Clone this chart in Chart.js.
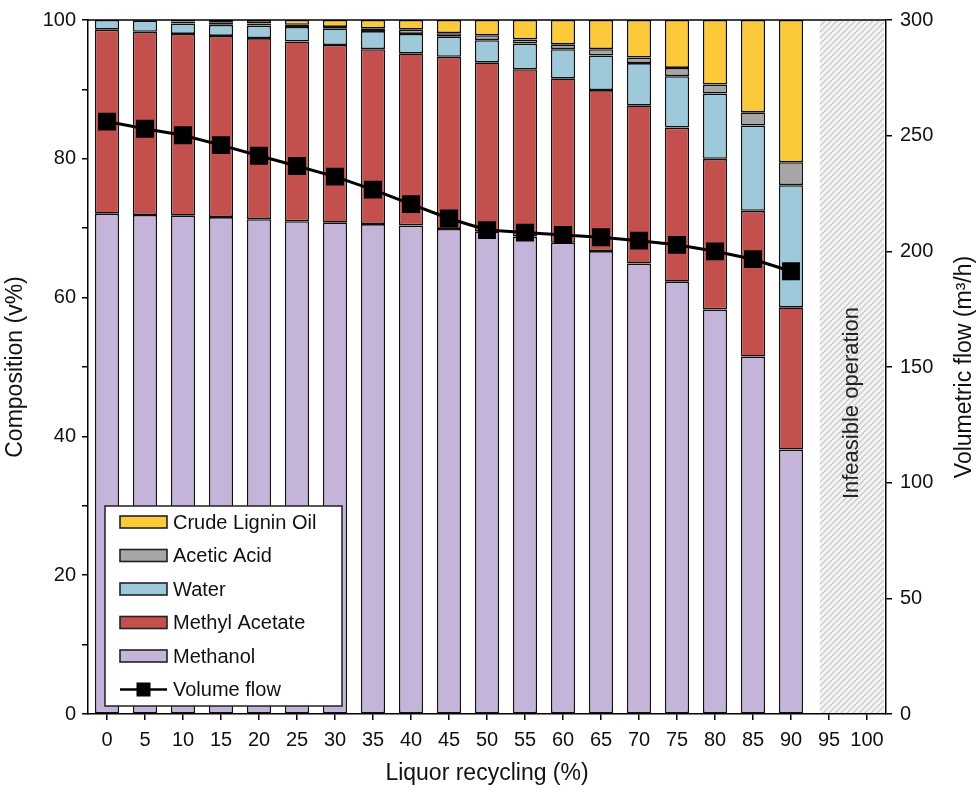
<!DOCTYPE html>
<html>
<head>
<meta charset="utf-8">
<script src="https://cdn.jsdelivr.net/npm/chart.js@4.4.0/dist/chart.umd.min.js"></script>
<style>
  html, body { margin: 0; padding: 0; background: #fff; }
  #wrap { width: 980px; height: 793px; }
</style>
</head>
<body>
<div id="wrap"><canvas id="chart"></canvas></div>
<script>
// liquor recycling (%) - 95 and 100 are infeasible, no data
const recycling = ['0','5','10','15','20','25','30','35','40','45','50','55','60','65','70','75','80','85','90','95','100'];

// composition, v% (each segment, stacked bottom -> top)
const methanol      = [72.1, 71.9, 71.8, 71.6, 71.3, 71.0, 70.8, 70.6, 70.4, 69.9, 69.5, 68.8, 67.9, 66.7, 64.9, 62.3, 58.3, 51.5, 38.1];
const methylAcetate = [26.5, 26.4, 26.2, 26.1, 26.1, 25.9, 25.6, 25.2, 24.8, 24.8, 24.4, 24.1, 23.7, 23.2, 22.8, 22.2, 21.7, 21.0, 20.5];
const water         = [1.4, 1.6, 1.5, 1.6, 1.8, 2.1, 2.4, 2.6, 2.8, 2.9, 3.2, 3.7, 4.2, 5.0, 6.1, 7.4, 9.4, 12.3, 17.6];
const aceticAcid    = [0, 0.1, 0.3, 0.3, 0.3, 0.3, 0.2, 0.4, 0.6, 0.5, 0.7, 0.6, 0.7, 0.9, 0.8, 1.2, 1.3, 1.9, 3.3];
const crudeLignin   = [0, 0, 0.2, 0.4, 0.5, 0.7, 1.0, 1.2, 1.4, 1.9, 2.2, 2.8, 3.5, 4.2, 5.4, 6.9, 9.3, 13.3, 20.5];

// volumetric flow, m3/h
const volumeFlow = [256.1, 253.0, 250.2, 245.9, 241.3, 236.9, 232.3, 226.7, 220.4, 214.2, 209.2, 208.1, 207.1, 206.1, 204.6, 202.8, 200.0, 196.6, 191.4];

const yTicks  = { min: 0, max: 100, step: 10, labelEvery: 20 };
const y1Ticks = { min: 0, max: 300, step: 50 };

const FONT = '"Liberation Sans", Arial, sans-serif';
Chart.defaults.font.family = FONT;
Chart.defaults.color = '#111';

function makeHatch() {
  const c = document.createElement('canvas');
  c.width = 6; c.height = 6;
  const g = c.getContext('2d');
  g.fillStyle = '#f3f3f3';
  g.fillRect(0, 0, 6, 6);
  g.strokeStyle = '#c2c2c2';
  g.lineWidth = 1.1;
  g.beginPath();
  g.moveTo(0, 6); g.lineTo(6, 0);
  g.moveTo(-3, 3); g.lineTo(3, -3);
  g.moveTo(3, 9); g.lineTo(9, 3);
  g.stroke();
  return c;
}

// hatched "infeasible" band over the last two categories
const infeasiblePlugin = {
  id: 'infeasible',
  beforeDatasetsDraw(chart) {
    const { ctx, chartArea, scales } = chart;
    const x = scales.x;
    const step = x.getPixelForValue(1) - x.getPixelForValue(0);
    const x0 = x.getPixelForValue(19) - 0.24 * step;
    const x1 = chartArea.right - 2;
    ctx.save();
    ctx.fillStyle = ctx.createPattern(makeHatch(), 'repeat');
    ctx.fillRect(x0, chartArea.top + 1, x1 - x0, chartArea.bottom - chartArea.top - 2);
    ctx.translate((x0 + x1) / 2, scales.y.getPixelForValue(44.8));
    ctx.rotate(-Math.PI / 2);
    ctx.font = '22px ' + FONT;
    ctx.fillStyle = '#222';
    ctx.textAlign = 'center';
    ctx.textBaseline = 'middle';
    ctx.fillText('Infeasible operation', 0, 0);
    ctx.restore();
  }
};

// legend box inside the plot, bottom-left
const boxLegend = {
  id: 'boxLegend',
  afterDatasetsDraw(chart) {
    const { ctx, chartArea } = chart;
    const ds = chart.data.datasets;
    const bars = ds.filter(d => d.type !== 'line').reverse();
    const lines = ds.filter(d => d.type === 'line');
    const items = bars.concat(lines);
    const left = chartArea.left + 17, bottom = chartArea.bottom - 8;
    const w = 237, h = 200, top = bottom - h;
    ctx.save();
    ctx.fillStyle = '#fff';
    ctx.fillRect(left, top, w, h);
    ctx.strokeStyle = '#222';
    ctx.lineWidth = 1.5;
    ctx.strokeRect(left, top, w, h);
    ctx.font = '20px ' + FONT;
    ctx.textBaseline = 'middle';
    items.forEach((d, i) => {
      const cy = top + 16 + i * 33.5;
      const sx = left + 15, sw = 47;
      if (d.type === 'line') {
        ctx.strokeStyle = '#000';
        ctx.lineWidth = 2.5;
        ctx.beginPath();
        ctx.moveTo(sx, cy); ctx.lineTo(sx + sw, cy);
        ctx.stroke();
        ctx.fillStyle = '#000';
        ctx.fillRect(sx + sw / 2 - 7, cy - 7, 14, 14);
      } else {
        ctx.fillStyle = d.backgroundColor;
        ctx.fillRect(sx, cy - 6, sw, 12);
        ctx.strokeStyle = '#222';
        ctx.lineWidth = 1.6;
        ctx.strokeRect(sx, cy - 6, sw, 12);
      }
      ctx.fillStyle = '#111';
      ctx.fillText(d.label, sx + sw + 6, cy + 1);
    });
    ctx.restore();
  },
  afterDraw(chart) {
    const { ctx, chartArea } = chart;
    ctx.save();
    // top frame line
    ctx.strokeStyle = '#000';
    ctx.lineWidth = 1.5;
    ctx.beginPath();
    ctx.moveTo(chartArea.left, chartArea.top);
    ctx.lineTo(chartArea.right, chartArea.top);
    ctx.stroke();
    // right axis title, reading bottom to top
    ctx.translate(chart.width - 15, (chartArea.top + chartArea.bottom) / 2);
    ctx.rotate(-Math.PI / 2);
    ctx.font = '23px ' + FONT;
    ctx.fillStyle = '#111';
    ctx.textAlign = 'center';
    ctx.textBaseline = 'middle';
    ctx.fillText('Volumetric flow (m³/h)', 0, 0);
    ctx.restore();
  }
};

const barStyle = {
  borderColor: '#111',
  borderWidth: 1.6,
  borderSkipped: false,
  barPercentage: 0.64,
  categoryPercentage: 1,
  yAxisID: 'y',
  order: 1
};

new Chart(document.getElementById('chart'), {
  type: 'bar',
  data: {
    labels: recycling,
    datasets: [
      { ...barStyle, label: 'Methanol', data: methanol, backgroundColor: '#c4b4da' },
      { ...barStyle, label: 'Methyl Acetate', data: methylAcetate, backgroundColor: '#c4504e' },
      { ...barStyle, label: 'Water', data: water, backgroundColor: '#9ec9da' },
      { ...barStyle, label: 'Acetic Acid', data: aceticAcid, backgroundColor: '#a6a6a6' },
      { ...barStyle, label: 'Crude Lignin Oil', data: crudeLignin, backgroundColor: '#fcc93a' },
      {
        type: 'line', label: 'Volume flow', data: volumeFlow, yAxisID: 'y1', order: 0,
        borderColor: '#000', borderWidth: 3, pointStyle: 'rect', pointRadius: 10.5,
        pointBackgroundColor: '#000', pointBorderColor: '#000', tension: 0
      }
    ]
  },
  options: {
    responsive: true,
    maintainAspectRatio: false,
    animation: false,
    layout: { padding: { top: 13, left: 0, right: 0, bottom: 0 } },
    plugins: { legend: { display: false }, tooltip: { enabled: false } },
    scales: {
      x: {
        stacked: true,
        offset: true,
        grid: { offset: false, drawOnChartArea: false, tickLength: 6, color: '#000', lineWidth: 1.5 },
        border: { color: '#000', width: 1.5 },
        ticks: { font: { size: 20 }, padding: 8, maxRotation: 0, autoSkip: false },
        title: { display: true, text: 'Liquor recycling (%)', font: { size: 23 }, padding: { top: 6, bottom: 6 } },
        afterFit(s) { s.height = 79; }
      },
      y: {
        stacked: true,
        position: 'left',
        min: yTicks.min, max: yTicks.max,
        grid: { drawOnChartArea: false, tickLength: 6, color: '#000', lineWidth: 1.5 },
        border: { color: '#000', width: 1.5 },
        ticks: {
          stepSize: yTicks.step, font: { size: 20 }, padding: 6,
          callback: v => (v % yTicks.labelEvery === 0 ? v : '')
        },
        title: { display: true, text: 'Composition (v%)', font: { size: 23 }, padding: { top: 2, bottom: 4 } },
        afterFit(s) { s.width = 88; }
      },
      y1: {
        position: 'right',
        min: y1Ticks.min, max: y1Ticks.max,
        grid: { drawOnChartArea: false, tickLength: 6, color: '#000', lineWidth: 1.5 },
        border: { color: '#000', width: 1.5 },
        ticks: { stepSize: y1Ticks.step, font: { size: 20 }, padding: 8 },
        title: { display: false },
        afterFit(s) { s.width = 94; }
      }
    }
  },
  plugins: [infeasiblePlugin, boxLegend]
});
</script>
</body>
</html>
